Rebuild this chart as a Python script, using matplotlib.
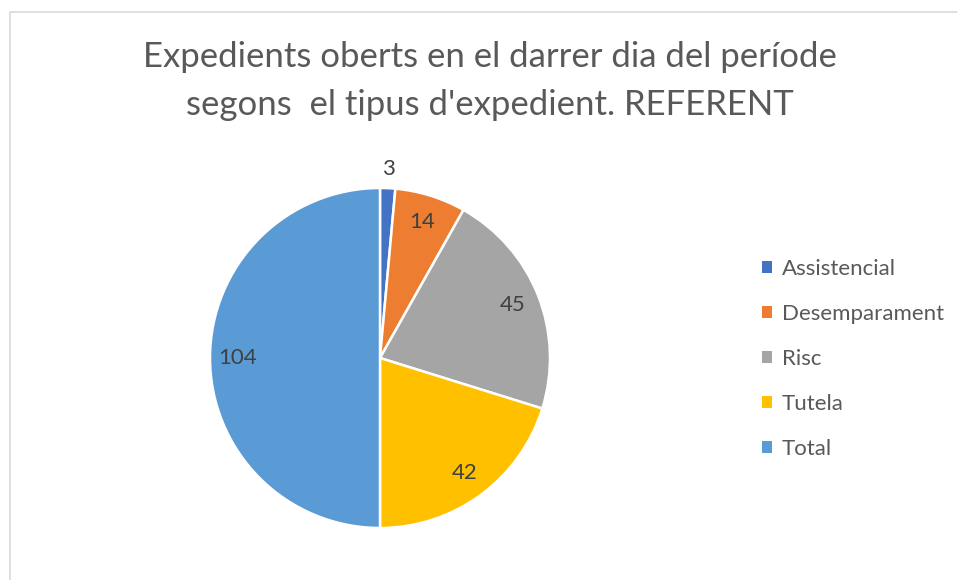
import numpy as np
import matplotlib.pyplot as plt
from matplotlib.patches import Patch, Rectangle

categories = ["Assistencial", "Desemparament", "Risc", "Tutela", "Total"]
values = [3, 14, 45, 42, 104]
colors = ["#4472C4", "#ED7D31", "#A5A5A5", "#FFC000", "#5B9BD5"]
title = "Expedients oberts en el darrer dia del període\nsegons  el tipus d'expedient. REFERENT"

plt.rcParams['font.family'] = ['Lato', 'DejaVu Sans']
W, H = 957, 580
fig = plt.figure(figsize=(W/100, H/100), dpi=100)

# border
fig.patches.append(Rectangle((10/W, -0.1), 1.2, 1 - 12/H + 0.1, transform=fig.transFigure,
                             fill=False, edgecolor="#D9D9D9", linewidth=1.2))

cx, cy, r = 380, 358, 170
ax = fig.add_axes([(cx - r)/W, (H - cy - r)/H, 2*r/W, 2*r/H])
wedges, _ = ax.pie(values, colors=colors, startangle=90, counterclock=False,
                   wedgeprops=dict(edgecolor="white", linewidth=1.8))
ax.set_xlim(-1, 1); ax.set_ylim(-1, 1)
ax.set_aspect('equal')

for w, v in zip(wedges, values):
    ang = np.deg2rad((w.theta1 + w.theta2) / 2)
    d = 1.11 if v < 5 else 0.84
    ax.text(d*np.cos(ang), d*np.sin(ang), str(v), ha='center', va='center',
            fontsize=16, color="#404040")

fig.text(490/W, 1 - 81/H, title, ha='center', va='center', fontsize=25,
         color="#595959", linespacing=1.63)

handles = [Patch(facecolor=c, edgecolor='none') for c in colors]
fig.legend(handles, categories, loc='center left', bbox_to_anchor=(742/W, 1 - 359/H),
           frameon=False, fontsize=16, labelcolor="#595959", handlelength=0.45,
           handleheight=0.45, handletextpad=0.45, labelspacing=1.12)

fig.savefig("out.png", dpi=100)
